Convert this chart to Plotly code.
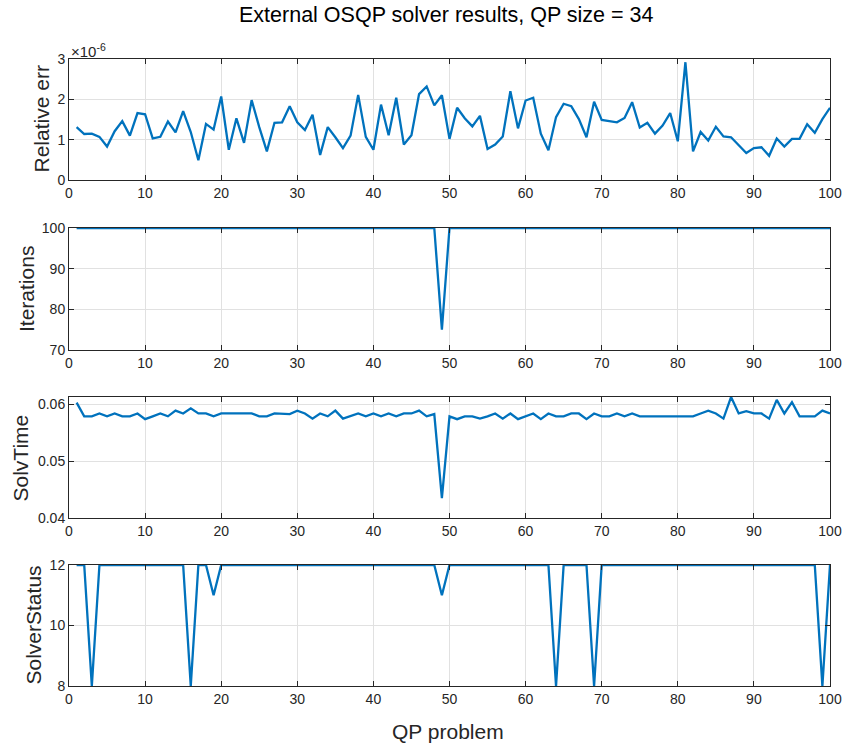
import plotly.graph_objects as go
from plotly.subplots import make_subplots

qp_problem = list(range(1, 101))

rel_err_e6 = [
    1.31, 1.14, 1.15, 1.07, 0.83, 1.21, 1.46, 1.10, 1.66, 1.63,
    1.03, 1.07, 1.45, 1.18, 1.71, 1.19, 0.49, 1.39, 1.25, 2.07,
    0.75, 1.53, 0.92, 1.98, 1.31, 0.71, 1.42, 1.43, 1.83, 1.43,
    1.24, 1.62, 0.62, 1.31, 1.06, 0.79, 1.10, 2.11, 1.07, 0.75,
    1.87, 1.11, 2.04, 0.88, 1.11, 2.13, 2.32, 1.85, 2.10, 1.02,
    1.79, 1.53, 1.33, 1.59, 0.77, 0.88, 1.08, 2.20, 1.28, 1.97,
    2.04, 1.15, 0.74, 1.56, 1.89, 1.83, 1.51, 1.06, 1.94, 1.49,
    1.46, 1.43, 1.54, 1.93, 1.30, 1.42, 1.15, 1.35, 1.66, 0.96,
    2.92, 0.71, 1.19, 0.98, 1.32, 1.08, 1.06, 0.86, 0.67, 0.79,
    0.81, 0.60, 1.03, 0.83, 1.02, 1.02, 1.38, 1.17, 1.51, 1.79,
]
rel_err = [v * 1e-6 for v in rel_err_e6]

iterations = [100] * 48 + [75] + [100] * 51

solv_time = [
    0.0603, 0.0579, 0.0579, 0.0584, 0.0579, 0.0584, 0.0579, 0.0579, 0.0584, 0.0574,
    0.0579, 0.0584, 0.0579, 0.0589, 0.0584, 0.0593, 0.0584, 0.0584, 0.0579, 0.0584,
    0.0584, 0.0584, 0.0584, 0.0584, 0.0579, 0.0579, 0.0584, 0.0584, 0.0583, 0.0589,
    0.0584, 0.0575, 0.0584, 0.0579, 0.0589, 0.0575, 0.0579, 0.0584, 0.0579, 0.0584,
    0.0579, 0.0584, 0.0579, 0.0584, 0.0584, 0.0589, 0.0579, 0.0583, 0.0435, 0.0579,
    0.0574, 0.0579, 0.0579, 0.0575, 0.0579, 0.0584, 0.0575, 0.0584, 0.0574, 0.0579,
    0.0584, 0.0574, 0.0584, 0.0579, 0.0579, 0.0584, 0.0584, 0.0574, 0.0584, 0.0579,
    0.0579, 0.0584, 0.0579, 0.0584, 0.0579, 0.0579, 0.0579, 0.0579, 0.0579, 0.0579,
    0.0579, 0.0579, 0.0584, 0.0589, 0.0584, 0.0575, 0.0613, 0.0584, 0.0588, 0.0584,
    0.0584, 0.0575, 0.0608, 0.0584, 0.0604, 0.0579, 0.0579, 0.0579, 0.0589, 0.0584,
]

solver_status = [12] * 100
for i in (3, 16, 64, 69, 99):
    solver_status[i - 1] = 8
for i in (19, 49):
    solver_status[i - 1] = 11

x_ticks = list(range(0, 101, 10))
series = [rel_err, iterations, solv_time, solver_status]
y_labels = ["Relative err", "Iterations", "SolvTime", "SolverStatus"]
y_ranges = [[0, 3e-6], [70, 100], [0.04, 0.0613], [8, 12]]
y_tickvals = [[0, 1e-6, 2e-6, 3e-6], [70, 80, 90, 100], [0.04, 0.05, 0.06], [8, 10, 12]]
y_ticktext = [["0", "1", "2", "3"], ["70", "80", "90", "100"], ["0.04", "0.05", "0.06"], ["8", "10", "12"]]

W, H = 845, 745
L, R, T, B = 69, 15, 59, 59
PH = H - T - B
PW = W - L - R
# pixel (top, bottom) of each axes box
boxes = [(59, 180), (228, 350), (397, 518), (565, 686)]
label_x_px = [41, 26, 20, 33]

FONT = "Liberation Sans, Arial, Helvetica, sans-serif"
AX = "#262626"
LINE = "#0072BD"

fig = make_subplots(rows=4, cols=1)
for i, ys in enumerate(series):
    fig.add_trace(go.Scatter(x=qp_problem, y=ys, mode="lines",
                             line=dict(color=LINE, width=2.3), showlegend=False,
                             cliponaxis=False),
                  row=i + 1, col=1)

axis_common = dict(showline=True, linecolor=AX, linewidth=1, mirror="ticks",
                   ticks="inside", ticklen=5, tickcolor=AX, tickwidth=1,
                   showgrid=True, gridcolor="#e1e1e1", gridwidth=1, zeroline=False,
                   automargin=False,
                   tickfont=dict(family=FONT, size=14, color=AX))

annotations = []
for i in range(4):
    top, bot = boxes[i]
    d0 = (H - B - bot) / PH
    d1 = (H - B - top) / PH
    sfx = "" if i == 0 else str(i + 1)
    fig.layout["xaxis" + sfx].update(domain=[0, 1], range=[0, 100], tickvals=x_ticks,
                                     **axis_common)
    fig.layout["yaxis" + sfx].update(domain=[d0, d1], range=y_ranges[i],
                                     tickvals=y_tickvals[i], ticktext=y_ticktext[i],
                                     **axis_common)
    annotations.append(dict(text=y_labels[i], textangle=-90, xref="paper", yref="paper",
                            x=(label_x_px[i] - L) / PW, y=(d0 + d1) / 2,
                            xanchor="center", yanchor="middle", showarrow=False,
                            font=dict(family=FONT, size=21, color=AX)))

annotations.append(dict(text="×10<sup>-6</sup>", xref="paper", yref="paper", x=0, y=1,
                        xanchor="left", yanchor="bottom", showarrow=False, yshift=-3,
                        font=dict(family=FONT, size=15, color=AX)))
annotations.append(dict(text="QP problem", xref="paper", yref="paper",
                        x=(448 - L) / PW, y=(H - B - 731) / PH,
                        xanchor="center", yanchor="middle", showarrow=False,
                        font=dict(family=FONT, size=21, color=AX)))
annotations.append(dict(text="External OSQP solver results, QP size = 34", xref="paper",
                        yref="paper", x=(446 - L) / PW, y=(H - B - 15) / PH,
                        xanchor="center", yanchor="middle", showarrow=False,
                        font=dict(family=FONT, size=21.5, color="#000000")))

fig.update_layout(template="none", width=W, height=H, margin=dict(l=L, r=R, t=T, b=B),
                  paper_bgcolor="white", plot_bgcolor="white",
                  annotations=annotations, font=dict(family=FONT))

fig.write_html("out.html")
